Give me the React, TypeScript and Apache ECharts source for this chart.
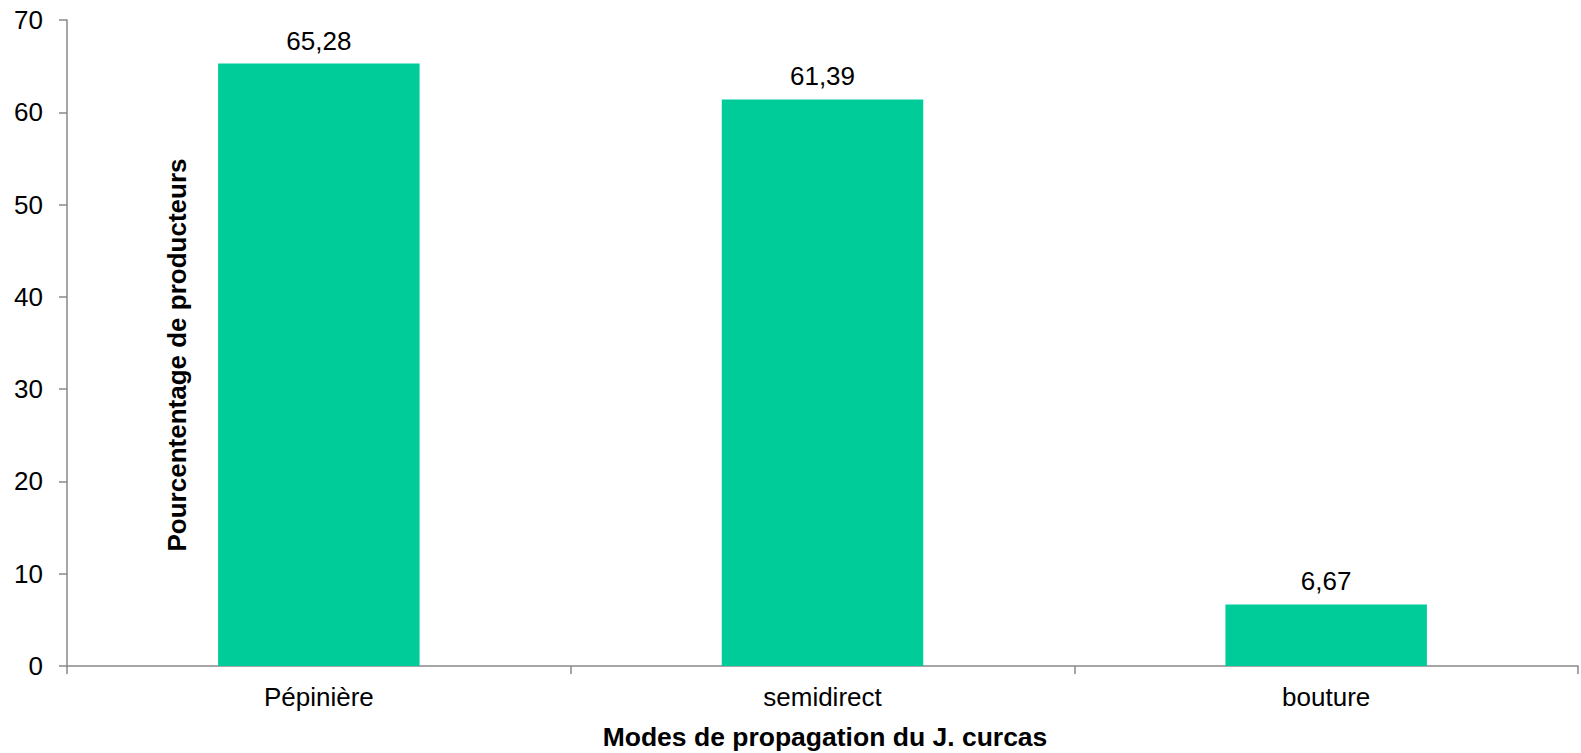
import React, { useEffect, useRef } from "react";
import * as echarts from "echarts";

const categories = ["Pépinière", "semidirect", "bouture"];
const values = [65.28, 61.39, 6.67];
const yTicks = { min: 0, max: 70, interval: 10 };
const xTitle = "Modes de propagation du J. curcas";
const yTitle = "Pourcententage de producteurs";

const FONT = "'Liberation Sans', Arial, sans-serif";
const AXIS_GREY = "#898989";

export default function App() {
  const ref = useRef<HTMLDivElement>(null);

  useEffect(() => {
    document.body.style.margin = "0";
    const chart = echarts.init(ref.current!, null, { renderer: "svg" });
    chart.setOption({
      animation: false,
      backgroundColor: "#ffffff",
      textStyle: { fontFamily: FONT },
      grid: { left: 67, right: 3, top: 20, bottom: 87, containLabel: false },
      xAxis: {
        type: "category",
        data: categories,
        boundaryGap: true,
        axisLine: { show: true, lineStyle: { color: AXIS_GREY, width: 1.5 } },
        axisTick: { show: true, length: 8, alignWithLabel: false, lineStyle: { color: AXIS_GREY, width: 1.5 } },
        axisLabel: { color: "#000", fontSize: 26, fontFamily: FONT, margin: 18 },
        splitLine: { show: false },
      },
      yAxis: {
        type: "value",
        min: yTicks.min,
        max: yTicks.max,
        interval: yTicks.interval,
        axisLine: { show: true, lineStyle: { color: AXIS_GREY, width: 1.5 } },
        axisTick: { show: true, length: 8, lineStyle: { color: AXIS_GREY, width: 1.5 } },
        axisLabel: { color: "#000", fontSize: 26, fontFamily: FONT, margin: 24 },
        splitLine: { show: false },
      },
      series: [
        {
          type: "bar",
          data: values,
          barCategoryGap: "60%",
          itemStyle: { color: "#00CC99" },
          label: {
            show: true,
            position: "top",
            distance: 10,
            color: "#000",
            fontSize: 26,
            fontFamily: FONT,
            formatter: (p: any) => String(p.value).replace(".", ","),
          },
        },
      ],
      graphic: [
        {
          type: "text",
          x: 825,
          y: 737,
          style: {
            text: xTitle,
            font: `bold 26.5px ${FONT}`,
            fill: "#000",
            textAlign: "center",
            textVerticalAlign: "middle",
          },
        },
        {
          type: "text",
          x: 177,
          y: 355,
          rotation: Math.PI / 2,
          style: {
            text: yTitle,
            font: `bold 26px ${FONT}`,
            fill: "#000",
            textAlign: "center",
            textVerticalAlign: "middle",
          },
        },
      ],
    });
    return () => chart.dispose();
  }, []);

  return <div ref={ref} style={{ width: 1581, height: 753 }} />;
}
